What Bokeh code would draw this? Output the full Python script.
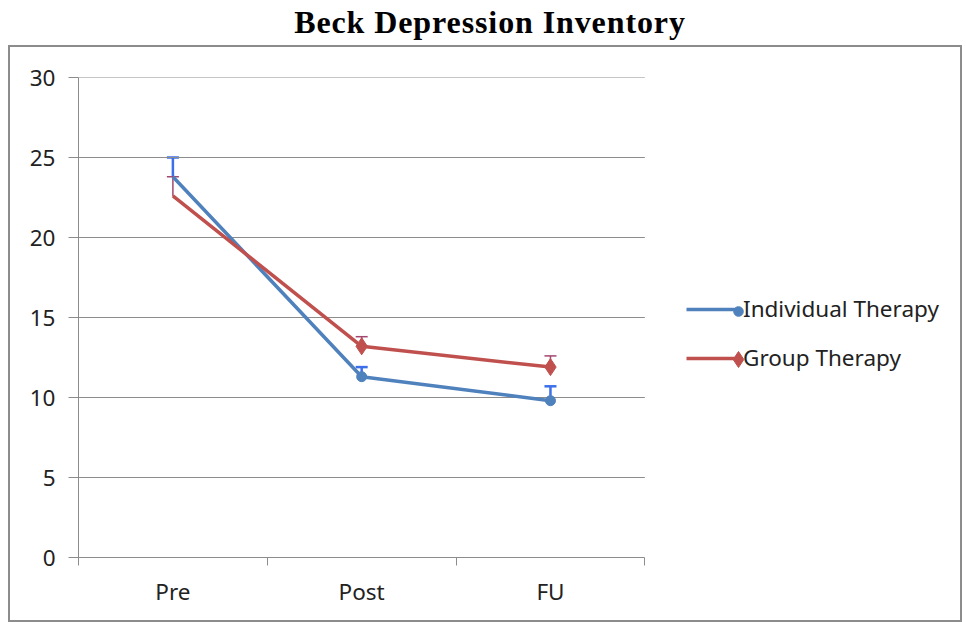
from bokeh.plotting import figure
from bokeh.models import (ColumnDataSource, Whisker, TeeHead, FixedTicker, Legend,
                          LegendItem, Div, CDSView, IndexFilter, Spacer)
from bokeh.layouts import column, row
from bokeh.embed import file_html
from bokeh.resources import INLINE

categories = ["Pre", "Post", "FU"]
individual = [23.8, 11.3, 9.8]
individual_err = [1.2, 0.6, 0.9]
group = [22.6, 13.2, 11.9]
group_err = [1.2, 0.6, 0.7]
y_ticks = [0, 5, 10, 15, 20, 25, 30]
series_names = ["Individual Therapy", "Group Therapy"]

n = len(categories)
xs = [i + 0.5 for i in range(n)]
bounds = list(range(n + 1))

BLUE = "#4F81BD"
RED = "#C0504D"
BLUE_ERR = "#3C6FEA"
RED_ERR = "#A34670"
GRID = "#8C8C8C"
FONT = "Noto Sans"
FS = "22.5px"

src_i = ColumnDataSource(dict(x=xs, y=individual,
                              up=[v + e for v, e in zip(individual, individual_err)]))
src_g = ColumnDataSource(dict(x=xs, y=group,
                              up=[v + e for v, e in zip(group, group_err)]))

title = Div(text="Beck Depression Inventory", width=966, height=45, margin=0,
            styles={"text-align": "center", "font-family": "Liberation Serif",
                    "font-weight": "bold", "font-size": "32px", "color": "black",
                    "letter-spacing": "0.9px",
                    "padding-left": "14px", "line-height": "44px"})

# plot area of the categories is 567 px wide; the frame continues to the right
# to host the legend, so the x range is extended accordingly
frame_w = 887
x_end = n * frame_w / 567.0

p = figure(width=954, height=577, x_range=(0, x_end), y_range=(0, 30),
           output_backend="svg", toolbar_location=None, margin=0,
           min_border_left=68, min_border_right=0, min_border_top=30,
           min_border_bottom=67)
p.styles = {"border": "2px solid #8C8C8C"}
p.outline_line_color = None
p.background_fill_color = "white"
p.border_fill_color = "white"

# axes
p.xaxis.ticker = FixedTicker(ticks=xs, minor_ticks=bounds)
p.xaxis.bounds = (0, n)
p.xaxis.major_label_overrides = {x: c for x, c in zip(xs, categories)}
p.xaxis.major_tick_out = 0
p.xaxis.major_tick_in = 0
p.xaxis.minor_tick_out = 8
p.xaxis.minor_tick_in = 0
p.xaxis.minor_tick_line_color = GRID
p.xaxis.axis_line_color = GRID
p.xaxis.major_label_standoff = 10
p.xgrid.visible = False

p.yaxis.ticker = FixedTicker(ticks=y_ticks, minor_ticks=[])
p.yaxis.major_tick_out = 10
p.yaxis.major_tick_in = 0
p.yaxis.major_tick_line_color = GRID
p.yaxis.axis_line_color = GRID
p.yaxis.major_label_standoff = 13
p.ygrid.visible = False

for ax in (p.xaxis, p.yaxis):
    ax.major_label_text_font = FONT
    ax.major_label_text_font_size = FS
    ax.major_label_text_color = "#222222"

# horizontal gridlines over the category area only
grid_y = [t for t in y_ticks if t > 0]
p.segment(x0=[0] * len(grid_y), x1=[n] * len(grid_y), y0=grid_y, y1=grid_y,
          line_color=GRID, line_width=1)

# series
li = p.line("x", "y", source=src_i, line_color=BLUE, line_width=3.5)
lg = p.line("x", "y", source=src_g, line_color=RED, line_width=3.5)
view = CDSView(filter=IndexFilter([1, 2]))
mi = p.scatter("x", "y", source=src_i, view=view, marker="circle", size=10,
               fill_color=BLUE, line_color=BLUE)
mg = p.scatter("x", "y", source=src_g, view=view, marker="diamond", size=17,
               fill_color=RED, line_color=RED)

p.add_layout(Whisker(source=src_i, base="x", lower="y", upper="up",
                     line_color=BLUE_ERR, line_width=2.5,
                     upper_head=TeeHead(size=12, line_color=BLUE_ERR, line_width=2.5),
                     lower_head=None))
p.add_layout(Whisker(source=src_g, base="x", lower="y", upper="up",
                     line_color=RED_ERR, line_width=1.5,
                     upper_head=TeeHead(size=12, line_color=RED_ERR, line_width=1.5),
                     lower_head=None))

# legend: lines with labels, then markers at the right end of each line
common = dict(orientation="vertical", padding=0, margin=0, border_line_color=None,
              background_fill_alpha=0, label_text_font=FONT,
              label_text_font_size=FS, label_text_color="#222222")
legend_lines = Legend(items=[LegendItem(label=series_names[0], renderers=[li]),
                             LegendItem(label=series_names[1], renderers=[lg])],
                      location=(608, 184), glyph_width=52, glyph_height=28,
                      label_height=28, spacing=18, label_standoff=5, **common)
legend_mark_i = Legend(items=[LegendItem(label=" ", renderers=[mi])],
                       location=(648, 232), glyph_width=24, glyph_height=28,
                       label_height=28, label_standoff=0, **common)
legend_mark_g = Legend(items=[LegendItem(label=" ", renderers=[mg])],
                       location=(640, 178), glyph_width=40, glyph_height=40,
                       label_height=40, label_standoff=0, **common)
p.add_layout(legend_lines, "center")
p.add_layout(legend_mark_i, "center")
p.add_layout(legend_mark_g, "center")

layout = column(title, row(Spacer(width=8, height=10, margin=0), p, margin=0),
                spacing=0, margin=0)
open("out.html", "w").write(file_html(layout, INLINE))
